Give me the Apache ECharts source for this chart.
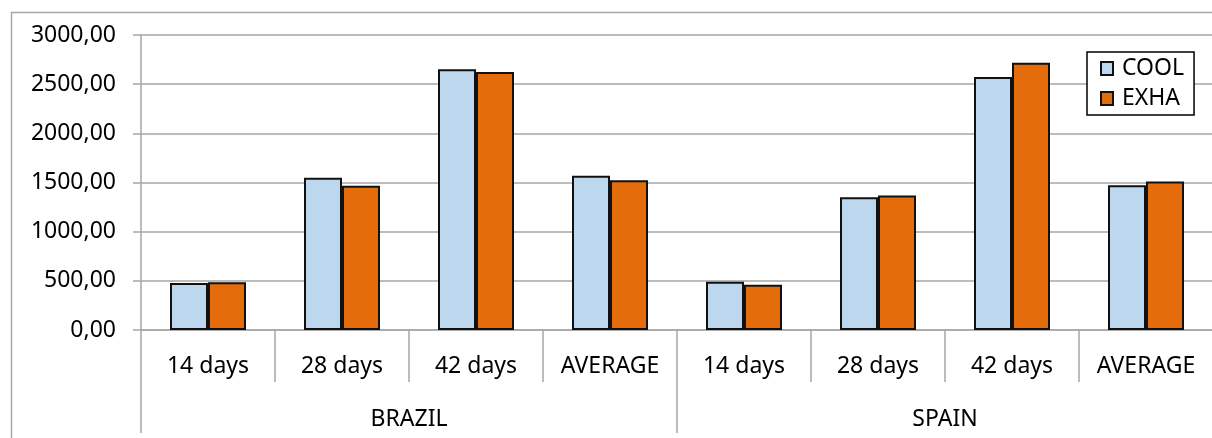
<!DOCTYPE html>
<html>
<head>
<meta charset="utf-8">
<script src="https://cdn.jsdelivr.net/npm/echarts@6/dist/echarts.min.js"></script>
<style>
html,body{margin:0;padding:0;background:#fff;}
#chart{width:1212px;height:438px;}
</style>
</head>
<body>
<div id="chart"></div>
<script>
var categories = ['14 days', '28 days', '42 days', 'AVERAGE', '14 days', '28 days', '42 days', 'AVERAGE'];
var groups = ['BRAZIL', 'SPAIN'];
var coolValues = [478, 1549, 2651, 1569, 490, 1350, 2573, 1473];
var exhaValues = [485, 1468, 2624, 1522, 459, 1367, 2719, 1509];
var yTickLabels = ['0,00', '500,00', '1000,00', '1500,00', '2000,00', '2500,00', '3000,00'];
var yTickValues = [0, 500, 1000, 1500, 2000, 2500, 3000];

var FONT = 'Noto Sans';
var GRID_COLOR = '#a6a6a6';

var chart = echarts.init(document.getElementById('chart'), null, {renderer: 'canvas'});
chart.setOption({
  animation: false,
  backgroundColor: '#fff',
  textStyle: {fontFamily: FONT},
  graphic: [{
    type: 'rect',
    shape: {x: 11.5, y: 12.5, width: 1300, height: 500},
    style: {fill: 'none', stroke: GRID_COLOR, lineWidth: 1.5},
    silent: true,
    z: -10
  }],
  legend: {
    orient: 'vertical',
    left: 1087,
    top: 52,
    padding: [5, 10, 5, 13],
    itemGap: 7,
    itemWidth: 12,
    itemHeight: 13,
    borderColor: '#000',
    borderWidth: 1.5,
    backgroundColor: '#fff',
    icon: 'rect',
    textStyle: {fontFamily: FONT, fontSize: 23, color: '#000', padding: [0, 0, 0, 4]},
    data: ['COOL', 'EXHA']
  },
  grid: {left: 141, top: 35, width: 1072, height: 295, outerBoundsMode: 'none'},
  xAxis: [{
    type: 'category',
    data: categories,
    position: 'bottom',
    axisLine: {show: true, lineStyle: {color: GRID_COLOR, width: 1.5}},
    axisTick: {show: true, interval: 0, length: 52, lineStyle: {color: GRID_COLOR, width: 1.5}},
    axisLabel: {interval: 0, margin: 25, fontFamily: FONT, fontSize: 23, color: '#000'}
  }, {
    type: 'category',
    data: groups,
    position: 'bottom',
    axisLine: {show: false},
    axisTick: {show: true, interval: 0, length: 103, lineStyle: {color: GRID_COLOR, width: 1.5}},
    axisLabel: {interval: 0, margin: 78, fontFamily: FONT, fontSize: 23, color: '#000'}
  }],
  yAxis: {
    type: 'value',
    min: 0,
    max: 3000,
    interval: 500,
    axisLine: {show: true, lineStyle: {color: GRID_COLOR, width: 1.5}},
    axisTick: {show: true, length: 8, lineStyle: {color: GRID_COLOR, width: 1.5}},
    splitLine: {show: true, lineStyle: {color: GRID_COLOR, width: 1.5}},
    axisLabel: {
      margin: 25,
      fontFamily: FONT,
      fontSize: 23,
      color: '#000',
      formatter: function (v) {
        var i = yTickValues.indexOf(v);
        return i >= 0 ? yTickLabels[i] : '';
      }
    }
  },
  series: [{
    name: 'COOL',
    type: 'bar',
    xAxisIndex: 0,
    data: coolValues,
    barWidth: 38,
    barGap: '0%',
    itemStyle: {color: '#BDD7EE', borderColor: '#111', borderWidth: 2}
  }, {
    name: 'EXHA',
    type: 'bar',
    xAxisIndex: 0,
    data: exhaValues,
    barWidth: 38,
    barGap: '0%',
    itemStyle: {color: '#E46C0A', borderColor: '#111', borderWidth: 2}
  }]
});
</script>
</body>
</html>
